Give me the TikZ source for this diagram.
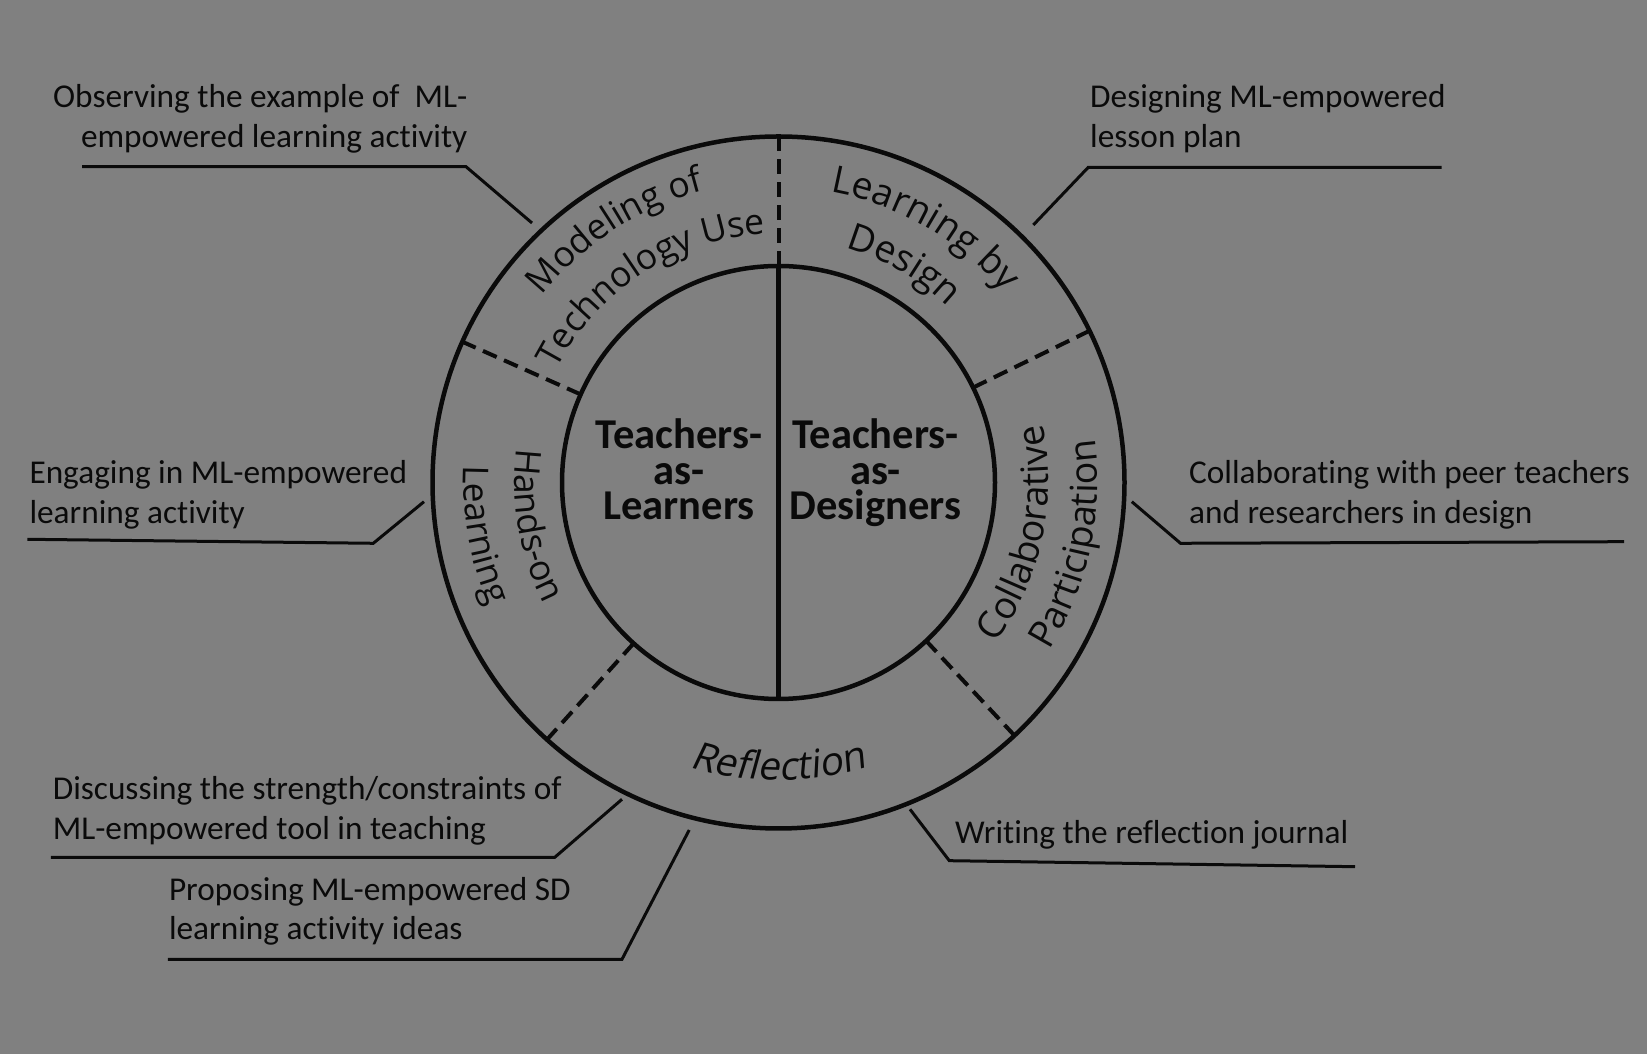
\documentclass[tikz,border=0pt]{standalone}
\usepackage{fontspec}
\newfontfamily\annfam[Ligatures=NoCommon]{Carlito}
\newfontfamily\ringfam{Open Sans}
\newfontfamily\ringslfam[FakeSlant=0.18]{Open Sans}
\newcommand\annfont{\annfam\fontsize{33.3}{39.5}\selectfont}
\newcommand\ctrfont{\annfam\bfseries\fontsize{42.5}{35.5}\selectfont}
\newcommand\ringfont{\ringfam\fontsize{35.5}{40}\selectfont}
\newcommand\ringbigfont{\ringfam\fontsize{37.5}{40}\selectfont}
\newcommand\ringslfont{\ringslfam\fontsize{39}{40}\selectfont}
\usetikzlibrary{calc,decorations.text}
\definecolor{bg}{RGB}{128,128,128}
\definecolor{ink}{RGB}{10,10,10}
\begin{document}
\begin{tikzpicture}[x=1pt,y=1pt,
  ringc/.style={circle, draw=ink, line width=4.5pt, inner sep=0pt, outer sep=0pt},
  sep/.style={line width=4pt, draw=ink, dash pattern=on 15pt off 8pt},
  solidsep/.style={line width=4.5pt, draw=ink},
  leader/.style={line width=3pt, draw=ink, line join=miter},
  ann/.style={font=\annfont, text=ink, inner sep=0pt},
  ctr/.style={font=\ctrfont, text=ink, inner sep=0pt, align=center},
  arctext/.style={decorate, decoration={text along path, text align=center, text color=ink, text={#1}}},
]
\fill[bg] (0,0) rectangle (1647,1054);
\useasboundingbox (0,0) rectangle (1647,1054);
\coordinate (C) at (778.5,571.5);
\node[ringc, minimum size=692pt] (outer) at (C) {};
\node[ringc, minimum size=433pt] (inner) at (C) {};
% separators
\draw[solidsep] (inner.north) -- (inner.south);
\draw[sep] (inner.north) -- (outer.north);
\draw[sep] (inner.156) -- (outer.156);
\draw[sep] (inner.26.8) -- (outer.26.8);
\draw[sep] (inner.228.6) -- (outer.228.6);
\draw[sep] (inner.-47.5) -- (outer.-47.5);
% centre texts (base = last line)
\node[ctr, anchor=base] (tal) at (679,534) {Teachers-\\as-\\Learners};
\node[ctr, anchor=base] (tad) at (875.5,534) {Teachers-\\as-\\Designers};
% ring texts
\path[arctext={|\ringfont|Modeling of}] ($(C)+(163:301)$) arc[start angle=163, end angle=83, radius=301];
\path[arctext={|\ringfont|Technology Use}] ($(C)+(173:249)$) arc[start angle=173, end angle=73, radius=249];
\path[arctext={|\ringbigfont|Learning by}] ($(C)+(100:295)$) arc[start angle=100, end angle=20, radius=295];
\path[arctext={|\ringbigfont|Design}] ($(C)+(100:244)$) arc[start angle=100, end angle=20, radius=244];
\path[arctext={|\ringfont|Hands-on}] ($(C)+(150:264)$) arc[start angle=150, end angle=230, radius=264];
\path[arctext={|\ringfont|Learning}] ($(C)+(150:315)$) arc[start angle=150, end angle=230, radius=315];
\path[arctext={|\ringbigfont|Collaborative}] ($(C)+(-52:270)$) arc[start angle=-52, end angle=28, radius=270];
\path[arctext={|\ringbigfont|Participation}] ($(C)+(-52:319)$) arc[start angle=-52, end angle=28, radius=319];
\path[arctext={|\ringslfont|Reflection}] ($(C)+(230:298)$) arc[start angle=230, end angle=310, radius=298];
% annotations (base = last line)
\node[ann, align=right, anchor=base east] (obs) at (467.5,906.7) {Observing the example of\ \ ML-\\empowered learning activity};
\coordinate (obsA) at (82,887.3);
\coordinate (obsB) at (466,887.3);
\coordinate (obsC) at (532,831);
\draw[leader] (obsA) -- (obsB) -- (obsC);

\node[ann, align=left, anchor=base west] (des) at (1090,906.7) {Designing ML-empowered\\lesson plan};
\coordinate (desA) at (1441.7,886.7);
\coordinate (desB) at (1088.3,886.7);
\coordinate (desC) at (1033.3,829);
\draw[leader] (desA) -- (desB) -- (desC);

\node[ann, align=left, anchor=base west] (eng) at (29.3,530.7) {Engaging in ML-empowered\\learning activity};
\coordinate (engA) at (27.3,514.7);
\coordinate (engB) at (373.3,510.7);
\coordinate (engC) at (424,552.3);
\draw[leader] (engA) -- (engB) -- (engC);

\node[ann, align=left, anchor=base west] (col) at (1188.9,530.7) {Collaborating with peer teachers\\and researchers in design};
\coordinate (colA) at (1131.8,552.3);
\coordinate (colB) at (1180.5,510.7);
\coordinate (colC) at (1624.2,512.3);
\draw[leader] (colA) -- (colB) -- (colC);

\node[ann, align=left, anchor=base west] (dis) at (52.6,214.7) {Discussing the strength/constraints of\\ML-empowered tool in teaching};
\coordinate (disA) at (50.8,196.7);
\coordinate (disB) at (554.8,196.7);
\coordinate (disC) at (622,254.7);
\draw[leader] (disA) -- (disB) -- (disC);

\node[ann, align=left, anchor=base west] (pro) at (168.8,114) {Proposing ML-empowered SD\\learning activity ideas};
\coordinate (proA) at (167.9,94.7);
\coordinate (proB) at (622,94.7);
\coordinate (proC) at (689.2,224);
\draw[leader] (proA) -- (proB) -- (proC);

\node[ann, anchor=base west] (wri) at (955,210.7) {Writing the reflection journal};
\coordinate (wriA) at (910,244.7);
\coordinate (wriB) at (949.3,193.3);
\coordinate (wriC) at (1355,187.3);
\draw[leader] (wriA) -- (wriB) -- (wriC);
\end{tikzpicture}
\end{document}
